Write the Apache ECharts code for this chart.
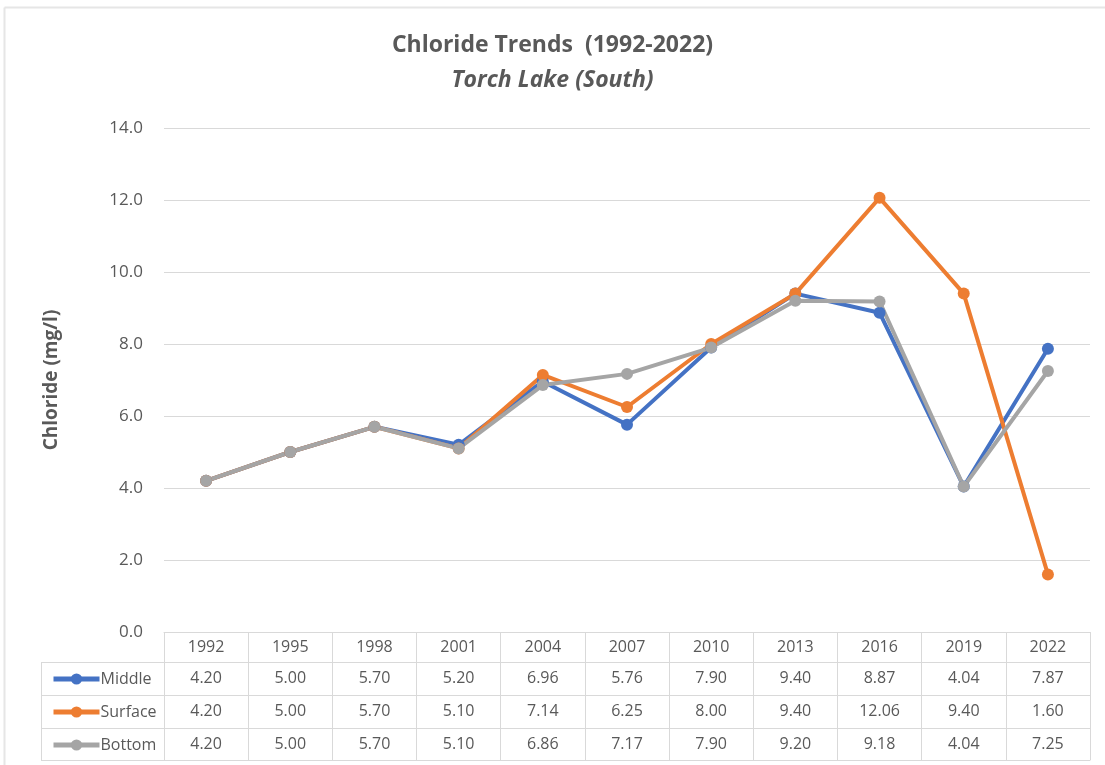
<!DOCTYPE html>
<html lang="en">
<head>
    <meta charset="UTF-8">
    <title>Chloride Trends (1992-2022)</title>
    <script src="https://cdn.jsdelivr.net/npm/echarts@6/dist/echarts.min.js"></script>
    <style>
        body { margin: 0; background: #fff; }
    </style>
</head>
<body>
<div id="main" style="width: 1105px;height: 765px;"></div>

<script type="text/javascript">
    // data
    var years = ['1992', '1995', '1998', '2001', '2004', '2007', '2010', '2013', '2016', '2019', '2022'];
    var middle = [4.20, 5.00, 5.70, 5.20, 6.96, 5.76, 7.90, 9.40, 8.87, 4.04, 7.87];
    var surface = [4.20, 5.00, 5.70, 5.10, 7.14, 6.25, 8.00, 9.40, 12.06, 9.40, 1.60];
    var bottom = [4.20, 5.00, 5.70, 5.10, 6.86, 7.17, 7.90, 9.20, 9.18, 4.04, 7.25];
    var seriesNames = ['Middle', 'Surface', 'Bottom'];
    var colors = ['#4472C4', '#ED7D31', '#A5A5A5'];

    var font = '"Open Sans", "Noto Sans", sans-serif';
    var textColor = '#595959';
    var gridColor = '#d9d9d9';

    var myChart = echarts.init(document.getElementById('main'));

    var gridLeft = 164, gridRight = 15, gridTop = 128, gridBottom = 133;
    var rowH = [30, 33, 33, 32]; // header + 3 data rows

    function fmt(arr) {
        return arr.map(function (v) { return v.toFixed(2); });
    }

    // one extra x axis per table row, shows the values under each year
    function tableAxis(values, offset, showLine) {
        return {
            type: 'category',
            position: 'bottom',
            offset: offset,
            data: values,
            axisLine: {show: showLine, lineStyle: {color: gridColor, width: 1}},
            axisTick: {show: false},
            axisLabel: {
                show: values.length > 0,
                interval: 0,
                margin: 8,
                color: textColor,
                fontFamily: font,
                fontSize: 16
            },
            splitLine: {show: false}
        };
    }

    var rowTops = [];
    var acc = 0;
    for (var i = 0; i < rowH.length; i++) {
        acc += rowH[i];
        rowTops.push(acc);
    }

    var tableBottomY = 765 - gridBottom + acc;
    var legendX = 41;

    var graphics = [
        // outer border
        {type: 'line', shape: {x1: 4.5, y1: 7.5, x2: 1105, y2: 7.5}, style: {stroke: '#e6e6e6', lineWidth: 2}},
        {type: 'line', shape: {x1: 4.5, y1: 7.5, x2: 4.5, y2: 765}, style: {stroke: '#e6e6e6', lineWidth: 2}},
        // legend column of the table
        {type: 'line', shape: {x1: legendX + 0.5, y1: 765 - gridBottom + rowTops[0], x2: legendX + 0.5, y2: tableBottomY}, style: {stroke: gridColor, lineWidth: 1}}
    ];
    for (var r = 0; r < rowTops.length; r++) {
        var y = 765 - gridBottom + rowTops[r] + 0.5;
        graphics.push({type: 'line', shape: {x1: legendX, y1: y, x2: gridLeft, y2: y}, style: {stroke: gridColor, lineWidth: 1}});
    }

    var option = {
        color: colors,
        title: {
            text: 'Chloride Trends  (1992-2022)',
            subtext: 'Torch Lake (South)',
            left: 'center',
            top: 29,
            itemGap: 12,
            textStyle: {fontFamily: font, fontSize: 23, fontWeight: 'bold', color: textColor},
            subtextStyle: {fontFamily: font, fontSize: 23, fontWeight: 'bold', fontStyle: 'italic', color: textColor}
        },
        legend: {
            orient: 'vertical',
            left: 46,
            top: 666,
            itemWidth: 46,
            itemHeight: 14,
            itemGap: 17,
            data: seriesNames,
            lineStyle: {width: 5},
            textStyle: {fontFamily: font, fontSize: 16, color: textColor, padding: [0, 0, 0, -4]}
        },
        grid: {left: gridLeft, right: gridRight, top: gridTop, bottom: gridBottom},
        xAxis: [
            {
                type: 'category',
                data: years,
                boundaryGap: true,
                axisLine: {show: true, lineStyle: {color: gridColor}},
                axisTick: {show: true, length: acc, lineStyle: {color: gridColor}},
                axisLabel: {interval: 0, margin: 7, color: textColor, fontFamily: font, fontSize: 16}
            },
            tableAxis(fmt(middle), rowTops[0], true),
            tableAxis(fmt(surface), rowTops[1], true),
            tableAxis(fmt(bottom), rowTops[2], true),
            tableAxis([], rowTops[3], true)
        ],
        yAxis: {
            type: 'value',
            min: 0,
            max: 14,
            interval: 2,
            name: 'Chloride (mg/l)',
            nameLocation: 'middle',
            nameGap: 103,
            nameTextStyle: {fontFamily: font, fontSize: 19, fontWeight: 'bold', color: textColor},
            axisLine: {show: false},
            axisTick: {show: false},
            axisLabel: {
                margin: 21,
                color: textColor,
                fontFamily: font,
                fontSize: 17,
                formatter: function (v) { return v.toFixed(1); }
            },
            splitLine: {lineStyle: {color: gridColor}}
        },
        series: [
            {name: 'Middle', type: 'line', data: middle, symbol: 'circle', symbolSize: 12, lineStyle: {width: 4}},
            {name: 'Surface', type: 'line', data: surface, symbol: 'circle', symbolSize: 12, lineStyle: {width: 4}},
            {name: 'Bottom', type: 'line', data: bottom, symbol: 'circle', symbolSize: 12, lineStyle: {width: 4}}
        ],
        graphic: graphics
    };

    myChart.setOption(option);
</script>
</body>
</html>
